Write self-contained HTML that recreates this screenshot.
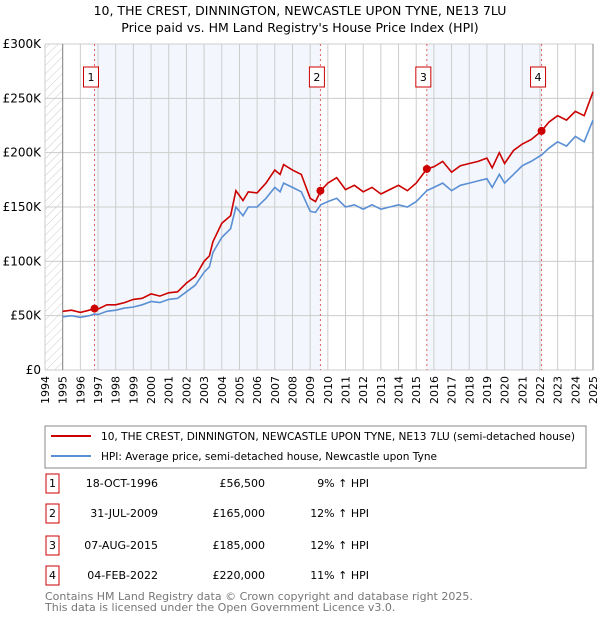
<!DOCTYPE html>
<html><head><meta charset="utf-8"><style>
body{margin:0;background:#fff;font-family:"Liberation Sans","DejaVu Sans",sans-serif;}
#wrap{position:relative;width:600px;height:620px;overflow:hidden;}
</style></head><body><div id="wrap">
<svg id="svg" width="600" height="620" xmlns="http://www.w3.org/2000/svg">
<text x="300" y="15" text-anchor="middle" font-size="12.5" fill="#000" font-family="DejaVu Sans, sans-serif">10, THE CREST, DINNINGTON, NEWCASTLE UPON TYNE, NE13 7LU</text>
<text x="300" y="32" text-anchor="middle" font-size="12.5" fill="#000" font-family="DejaVu Sans, sans-serif">Price paid vs. HM Land Registry's House Price Index (HPI)</text>
<defs><pattern id="hatch" width="6" height="6" patternUnits="userSpaceOnUse" patternTransform="rotate(45)"><line x1="0" y1="0" x2="0" y2="6" stroke="#ccc" stroke-width="1"/></pattern></defs>
<g id="plot"></g>
<rect x="45" y="426" width="541" height="42" fill="#fff" stroke="#888"/>
<line x1="51" y1="436" x2="91" y2="436" stroke="#cc0000" stroke-width="2"/>
<text x="101" y="440" font-size="10.5" textLength="474" lengthAdjust="spacingAndGlyphs" font-family="DejaVu Sans, sans-serif">10, THE CREST, DINNINGTON, NEWCASTLE UPON TYNE, NE13 7LU (semi-detached house)</text>
<line x1="51" y1="456" x2="91" y2="456" stroke="#5b8fd4" stroke-width="2"/>
<text x="101" y="460" font-size="10.5" textLength="336" lengthAdjust="spacingAndGlyphs" font-family="DejaVu Sans, sans-serif">HPI: Average price, semi-detached house, Newcastle upon Tyne</text>
<g id="table" font-size="11" font-family="DejaVu Sans, sans-serif"></g>
<text x="45" y="600" font-size="11" fill="#777" font-family="DejaVu Sans, sans-serif">Contains HM Land Registry data © Crown copyright and database right 2025.</text>
<text x="45" y="611" font-size="11" fill="#777" font-family="DejaVu Sans, sans-serif">This data is licensed under the Open Government Licence v3.0.</text>
</svg></div>
<script>
const hpiYears=[1995,1995.5,1996,1996.5,1996.8,1997,1997.5,1998,1998.5,1999,1999.5,2000,2000.5,2001,2001.5,2002,2002.5,2003,2003.3,2003.5,2004,2004.5,2004.8,2005.2,2005.5,2006,2006.5,2007,2007.3,2007.5,2008,2008.5,2009,2009.3,2009.6,2010,2010.5,2011,2011.5,2012,2012.5,2013,2013.5,2014,2014.5,2015,2015.6,2016,2016.5,2017,2017.5,2018,2018.5,2019,2019.3,2019.7,2020,2020.5,2021,2021.5,2022.1,2022.5,2023,2023.5,2024,2024.5,2025];
const hpiValues=[49,50,48.5,50,51.5,51,54,55,57,58,60,63,62,65,66,72,78,90,95,108,122,130,150,142,150,150,158,168,164,172,168,164,146,145,152,155,158,150,152,148,152,148,150,152,150,155,165,168,172,165,170,172,174,176,168,180,172,180,188,192,198,204,210,206,215,210,230];
const propValues=[54,55,53,55,56.5,56,60,60,62,65,66,70,68,71,72,80,86,100,105,118,135,142,165,156,164,163,172,184,180,189,184,180,158,155,165,172,177,166,170,164,168,162,166,170,165,172,185,187,192,182,188,190,192,195,186,200,190,202,208,212,220,228,234,230,238,234,256];
const saleYears=[1996.8,2009.58,2015.6,2022.09];
const salePrices=[56.5,165,185,220];
const saleDates=["18-OCT-1996","31-JUL-2009","07-AUG-2015","04-FEB-2022"];
const salePriceLabels=["£56,500","£165,000","£185,000","£220,000"];
const saleHpiLabels=["9% ↑ HPI","12% ↑ HPI","12% ↑ HPI","11% ↑ HPI"];
const yTicks=[0,50,100,150,200,250,300];
const yTickLabels=["£0","£50K","£100K","£150K","£200K","£250K","£300K"];
const xStart=1994,xEnd=2025;
const NS="http://www.w3.org/2000/svg";
const L=45,R=593,T=44,B=370;
function X(y){return L+(y-xStart)/(xEnd-xStart)*(R-L);}
function Y(v){return B-v/300*(B-T);}
function el(tag,attrs,parent){const e=document.createElementNS(NS,tag);for(const k in attrs)e.setAttribute(k,attrs[k]);parent.appendChild(e);return e;}
const g=document.getElementById('plot');
const bands=[[saleYears[0],saleYears[1]],[saleYears[2],saleYears[3]]];
bands.forEach((b,i)=>{const r=el('rect',{x:X(b[0]),y:T,width:X(b[1])-X(b[0]),height:B-T,fill:'#eef3fc',opacity:0.7},g);

});
const h=el('rect',{x:L,y:T,width:X(1995)-L,height:B-T,fill:'url(#hatch)'},g);


for(let yr=xStart;yr<=xEnd;yr++){const l=el('line',{x1:X(yr),x2:X(yr),y1:T,y2:B,stroke:'#ccc','stroke-width':1},g);


const t=el('text',{x:0,y:0,'font-size':11,'font-family':'DejaVu Sans, sans-serif','text-anchor':'end',transform:`translate(${X(yr)+4},376) rotate(-90)`},g);t.textContent=yr;

}
yTicks.forEach((v,i)=>{const l=el('line',{x1:L,x2:R,y1:Y(v),y2:Y(v),stroke:'#ccc','stroke-width':1},g);


const t=el('text',{x:L-4,y:Y(v)+4,'font-size':12,'font-family':'DejaVu Sans, sans-serif','text-anchor':'end'},g);t.textContent=yTickLabels[i];

});
const ax=el('line',{x1:X(1995),x2:X(1995),y1:T,y2:B,stroke:'#888'},g);


const ax2=el('line',{x1:R,x2:R,y1:T,y2:B,stroke:'#888'},g);


saleYears.forEach((s,i)=>{const l=el('line',{x1:X(s),x2:X(s),y1:T,y2:B,stroke:'#e06060','stroke-dasharray':'2,3'},g);


const bx=X(s);
const r=el('rect',{x:bx-11,y:67,width:15,height:20,fill:'#fff',stroke:'#cc0000'},g);


const t=el('text',{x:bx-3.5,y:81,'font-size':11,'text-anchor':'middle','font-family':'DejaVu Sans, sans-serif'},g);t.textContent=i+1;

});
function path(vals,col,name){const d=hpiYears.map((y,i)=>(i?'L':'M')+X(y).toFixed(1)+','+Y(vals[i]).toFixed(1)).join('');
const p=el('path',{d:d,fill:'none',stroke:col,'stroke-width':1.6},g);

}
path(hpiValues,'#5b8fd4','hpi-line');
path(propValues,'#cc0000','property-price-line');
saleYears.forEach((s,i)=>{const c=el('circle',{cx:X(s),cy:Y(salePrices[i]),r:4,fill:'#cc0000'},g);

});
const tb=document.getElementById('table');
const rowY=[483,513,545,575];
rowY.forEach((y,i)=>{const r=el('rect',{x:46,y:y-9,width:13,height:19,fill:'#fff',stroke:'#cc0000'},tb);


const n=el('text',{x:52.5,y:y+4,'text-anchor':'middle'},tb);n.textContent=i+1;


const d=el('text',{x:158,y:y+4,'text-anchor':'end'},tb);d.textContent=saleDates[i];


const p=el('text',{x:265,y:y+4,'text-anchor':'end'},tb);p.textContent=salePriceLabels[i];


const hh=el('text',{x:369,y:y+4,'text-anchor':'end'},tb);hh.textContent=saleHpiLabels[i];

});
</script></body></html>
